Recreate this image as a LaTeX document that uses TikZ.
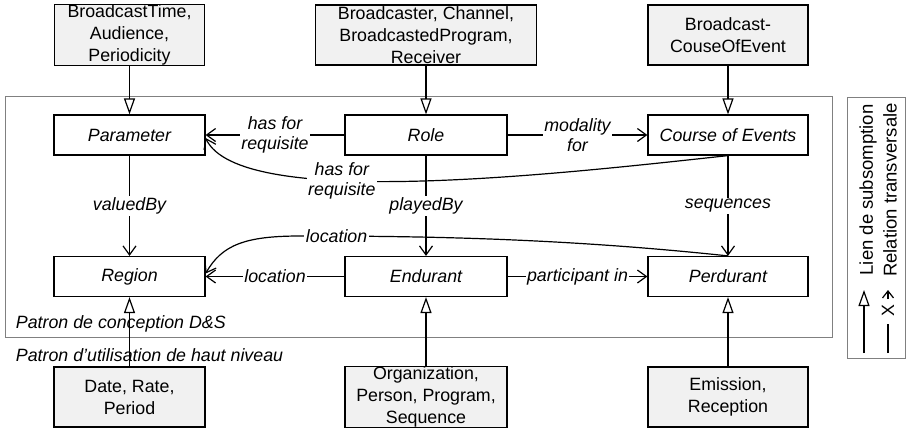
\documentclass[tikz,border=0pt]{standalone}
\usepackage{fontspec}
\setmainfont{Liberation Sans}
\usetikzlibrary{arrows.meta}

\begin{document}
\begin{tikzpicture}[x=1pt,y=-1pt,line width=1.2pt,
  font=\fontsize{17.8}{22}\selectfont,
  concept/.style={draw,inner sep=0pt,minimum height=40pt,font=\fontsize{17.8}{22}\selectfont\itshape},
  pattern/.style={draw,fill=gray!11,inner sep=0pt,minimum height=60pt,align=center},
  lbl/.style={fill=white,inner sep=1.5pt,align=center,font=\fontsize{17.8}{20}\selectfont\itshape},
  rel/.style={-{Straight Barb[length=9pt,width=13pt]}},
  subs/.style={-{Triangle[length=16pt,width=11pt,fill=white]}}]
\useasboundingbox (0,0) rectangle (908,429);
\draw[gray,line width=0.8pt] (5,96) rectangle (832,337);
\draw[gray,line width=0.8pt] (847,97) rectangle (905,358);
\node[anchor=west,font=\fontsize{17.8}{22}\selectfont\itshape] (dstitle) at (12,324) {Patron de conception D\&S};
\node[anchor=west,font=\fontsize{17.8}{22}\selectfont\itshape] (hltitle) at (12,355) {Patron d’utilisation de haut niveau};
\node[pattern,minimum width=150pt] (bt) at (129.5,35) {BroadcastTime,\\Audience,\\Periodicity};
\node[pattern,minimum width=221pt] (bc) at (426,35) {Broadcaster, Channel,\\BroadcastedProgram,\\Receiver};
\node[pattern,minimum width=160pt] (bcoe) at (728,35) {Broadcast-\\CouseOfEvent};
\node[concept,minimum width=151pt] (param) at (129.5,135) {Parameter};
\node[concept,minimum width=162pt] (role) at (426,135) {Role};
\node[concept,minimum width=160pt] (course) at (728,135) {Course of Events};
\node[concept,minimum width=151pt] (region) at (129.5,276.5) {Region};
\node[concept,minimum width=162pt] (endurant) at (426,276.5) {Endurant};
\node[concept,minimum width=160pt] (perdurant) at (728,276.5) {Perdurant};
\node[pattern,minimum width=151pt] (drp) at (129.5,397) {Date, Rate,\\Period};
\node[pattern,minimum width=162pt] (opps) at (426,397) {Organization,\\Person, Program,\\Sequence};
\node[pattern,minimum width=160pt] (er) at (728,397) {Emission,\\Reception};
\draw[subs] (bt) -- (param);
\draw[subs] (bc) -- (role);
\draw[subs] (bcoe) -- (course);
\draw[subs] (drp) -- (region);
\draw[subs] (opps) -- (endurant);
\draw[subs] (er) -- (perdurant);
\draw[rel] (role) -- node[lbl] {has for\\requisite} (param);
\draw[rel] (role) -- node[lbl] {modality\\for} (course);
\draw[rel] (param) -- node[lbl] {valuedBy} (region);
\draw[rel] (role) -- node[lbl] {playedBy} (endurant);
\draw[rel] (course) -- node[lbl] {sequences} (perdurant);
\draw[rel] (endurant) -- node[lbl] {location} (region);
\draw[rel] (endurant) -- node[lbl] {participant in} (perdurant);
\draw[rel] (course.south) .. controls (550,175) and (240,210) .. node[lbl,pos=0.62] {has for\\requisite} ([yshift=-3pt]param.east);
\draw[rel] (perdurant.north) .. controls (560,238) and (420,236) .. node[lbl,pos=0.9] {location} (300,236) .. controls (245,236) and (222,245) .. ([yshift=3pt]region.east);
\coordinate (sub0) at (864,353);
\coordinate (sub1) at (864,290);
\coordinate (rel0) at (888,353);
\coordinate (rel1) at (888,324);
\coordinate (rel2) at (888,299);
\coordinate (rel3) at (888,290);
\draw[subs] (sub0) -- (sub1);
\draw (rel0) -- (rel1);
\node[rotate=90] (relx) at (888,311) {X};
\draw[-{Straight Barb[length=7pt,width=11pt]}] (rel2) -- (rel3);
\node[rotate=90,font=\fontsize{18.5}{22}\selectfont] (lsub) at (868,190) {Lien de subsomption};
\node[rotate=90,font=\fontsize{18.5}{22}\selectfont] (lrel) at (890,190) {Relation transversale};
\end{tikzpicture}
\end{document}
